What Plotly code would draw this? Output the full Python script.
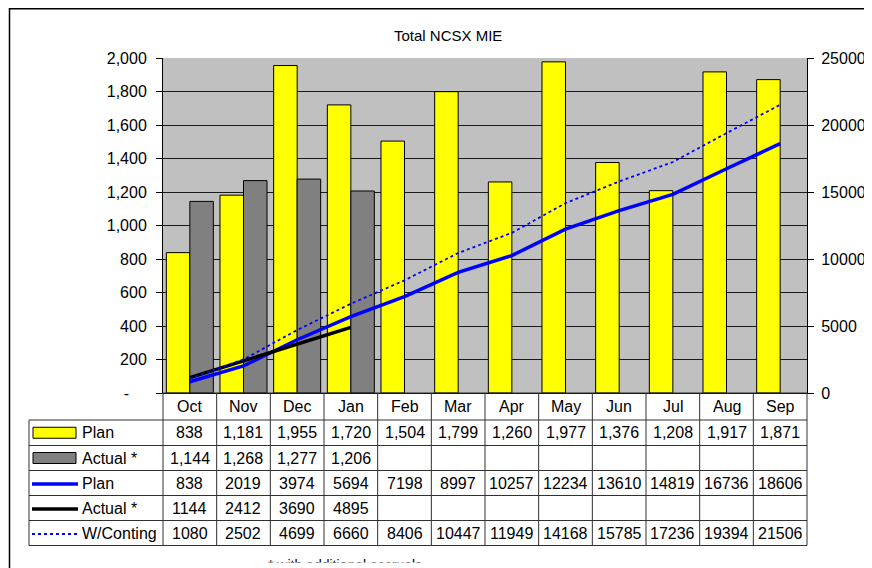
"""
Total NCSX MIE: monthly plan/actual bars with cumulative lines and a data table
laid out underneath, in the style of an Excel chart.
"""

import plotly.graph_objects as go

# ── Data ────────────────────────────────────────────────────────────────────
MONTHS = ["Oct", "Nov", "Dec", "Jan", "Feb", "Mar", "Apr", "May", "Jun", "Jul", "Aug", "Sep"]
PLAN_MONTHLY = [838, 1181, 1955, 1720, 1504, 1799, 1260, 1977, 1376, 1208, 1917, 1871]
ACTUAL_MONTHLY = [1144, 1268, 1277, 1206]
PLAN_CUM = [838, 2019, 3974, 5694, 7198, 8997, 10257, 12234, 13610, 14819, 16736, 18606]
ACTUAL_CUM = [1144, 2412, 3690, 4895]
W_CONTING = [1080, 2502, 4699, 6660, 8406, 10447, 11949, 14168, 15785, 17236, 19394, 21506]

LEFT_TICKS = [0, 200, 400, 600, 800, 1000, 1200, 1400, 1600, 1800, 2000]
RIGHT_TICKS = [0, 5000, 10000, 15000, 20000, 25000]

ROW_LABELS = ["Plan", "Actual *", "Plan", "Actual *", "W/Conting"]
FOOTNOTE = "* with additional accruals"

# ── Layout constants (pixels in the 872x568 window) ─────────────────────────
# the page body keeps its default 8px margin, so the figure starts at (8, 8)
OFF = 8
W, H = 872 - OFF, 568 - OFF
FONT = "Liberation Sans, Arial, sans-serif"
PLOT_L, PLOT_R, PLOT_T, PLOT_B = 163, 807, 58, 393
TABLE_L = 29
ROW_EDGES = [393, 420, 445.5, 470.5, 495.5, 520.5, 545.5]


def px(x):
    return (x - OFF) / W


def py(y):
    return 1 - (y - OFF) / H


def fmt_comma(v):
    return f"{v:,}"


fig = go.Figure()

fig.add_trace(go.Bar(x=MONTHS, y=PLAN_MONTHLY, name="Plan",
                     marker=dict(color="#FFFF00", line=dict(color="#000000", width=1))))
fig.add_trace(go.Bar(x=MONTHS[:len(ACTUAL_MONTHLY)], y=ACTUAL_MONTHLY, name="Actual *",
                     marker=dict(color="#808080", line=dict(color="#000000", width=1))))
fig.add_trace(go.Scatter(x=MONTHS, y=PLAN_CUM, name="Plan", yaxis="y2", mode="lines",
                         line=dict(color="#0000FF", width=3.5)))
fig.add_trace(go.Scatter(x=MONTHS[:len(ACTUAL_CUM)], y=ACTUAL_CUM, name="Actual *",
                         yaxis="y2", mode="lines", line=dict(color="#000000", width=3.5)))
fig.add_trace(go.Scatter(x=MONTHS, y=W_CONTING, name="W/Conting", yaxis="y2", mode="lines",
                         line=dict(color="#0000FF", width=1.8, dash="dot")))

left_text = [fmt_comma(v) if v else "-" + "\u00a0" * 4 for v in LEFT_TICKS]

fig.update_layout(
    width=W, height=H,
    margin=dict(l=0, r=0, t=0, b=0),
    paper_bgcolor="white",
    plot_bgcolor="#C0C0C0",
    font=dict(family=FONT, size=16, color="black"),
    showlegend=False,
    barmode="group",
    bargap=0.124,
    bargroupgap=0,
    xaxis=dict(domain=[px(PLOT_L), px(PLOT_R)], range=[-0.5, 11.5],
               showticklabels=False, ticks="", showgrid=False, automargin=False,
               showline=True, linecolor="black", linewidth=1, zeroline=False),
    yaxis=dict(domain=[py(PLOT_B), py(PLOT_T)], range=[0, 2000], automargin=False,
               tickvals=LEFT_TICKS, ticktext=left_text, ticks="outside", ticklen=6,
               tickcolor="black", ticklabelstandoff=6,
               showgrid=True, gridcolor="#1a1a1a", gridwidth=1,
               showline=True, linecolor="black", linewidth=1, zeroline=False),
    yaxis2=dict(overlaying="y", side="right", range=[0, 25000], automargin=False,
                tickvals=RIGHT_TICKS, tickformat="d", ticks="outside", ticklen=6,
                tickcolor="black", ticklabelstandoff=4, showgrid=False, zeroline=False,
                showline=True, linecolor="black", linewidth=1),
)

fig.add_annotation(text="Total NCSX MIE", x=px(448), y=py(35), xref="paper", yref="paper",
                   xanchor="center", yanchor="middle", showarrow=False, font=dict(size=15))

# ── Data table under the plot ───────────────────────────────────────────────
line = dict(color="#303030", width=1)
col_w = (PLOT_R - PLOT_L) / len(MONTHS)
shapes = []
# horizontal rules
shapes.append(dict(type="line", xref="paper", yref="paper",
                   x0=px(PLOT_L), x1=px(PLOT_R), y0=py(ROW_EDGES[0]), y1=py(ROW_EDGES[0]), line=line))
for edge in ROW_EDGES[1:]:
    shapes.append(dict(type="line", xref="paper", yref="paper",
                       x0=px(TABLE_L), x1=px(PLOT_R), y0=py(edge), y1=py(edge), line=line))
# vertical rules
shapes.append(dict(type="line", xref="paper", yref="paper",
                   x0=px(TABLE_L), x1=px(TABLE_L), y0=py(ROW_EDGES[1]), y1=py(ROW_EDGES[-1]), line=line))
for i in range(len(MONTHS) + 1):
    xe = PLOT_L + i * col_w
    shapes.append(dict(type="line", xref="paper", yref="paper",
                       x0=px(xe), x1=px(xe), y0=py(ROW_EDGES[0]), y1=py(ROW_EDGES[-1]), line=line))

# legend keys in the row-label column
row_mid = [(ROW_EDGES[i] + ROW_EDGES[i + 1]) / 2 for i in range(1, len(ROW_EDGES) - 1)]
for r, colour in ((0, "#FFFF00"), (1, "#808080")):
    shapes.append(dict(type="rect", xref="paper", yref="paper",
                       x0=px(33), x1=px(76), y0=py(row_mid[r] - 5.5), y1=py(row_mid[r] + 5.5),
                       fillcolor=colour, line=dict(color="black", width=1)))
key_lines = [(2, "#0000FF", 3.5, "solid"), (3, "#000000", 3.5, "solid"), (4, "#0000FF", 1.8, "dot")]
for r, colour, wdt, dash in key_lines:
    shapes.append(dict(type="line", xref="paper", yref="paper",
                       x0=px(32), x1=px(78), y0=py(row_mid[r] + 1), y1=py(row_mid[r] + 1),
                       line=dict(color=colour, width=wdt, dash=dash)))

# outer chart border (top and left are visible in the crop)
shapes.append(dict(type="line", xref="paper", yref="paper", x0=px(9), x1=1.0,
                   y0=py(8.75), y1=py(8.75), line=dict(color="black", width=1.5)))
shapes.append(dict(type="line", xref="paper", yref="paper", x0=px(9.5), x1=px(9.5),
                   y0=py(8), y1=0, line=dict(color="black", width=1.5)))

# footnote: only the tops of its tallest letters show in the original, the rest
# is clipped by the chart area; a shape label does not push the margins
shapes.append(dict(type="rect", xref="paper", yref="paper",
                   x0=px(265), x1=px(440), y0=py(553.5), y1=py(573.5),
                   line=dict(width=0), fillcolor="rgba(0,0,0,0)",
                   label=dict(text=FOOTNOTE, textposition="middle left", padding=0,
                              font=dict(family=FONT, size=14, color="black"))))
shapes.append(dict(type="rect", xref="paper", yref="paper",
                   x0=px(255), x1=px(450), y0=py(562.5), y1=0,
                   line=dict(width=0), fillcolor="white"))
fig.update_layout(shapes=shapes)

row_values = [
    [fmt_comma(v) for v in PLAN_MONTHLY],
    [fmt_comma(v) for v in ACTUAL_MONTHLY],
    [str(v) for v in PLAN_CUM],
    [str(v) for v in ACTUAL_CUM],
    [str(v) for v in W_CONTING],
]

header_mid = (ROW_EDGES[0] + ROW_EDGES[1]) / 2
for i, m in enumerate(MONTHS):
    fig.add_annotation(text=m, x=px(PLOT_L + (i + 0.5) * col_w), y=py(header_mid),
                       xref="paper", yref="paper", xanchor="center", yanchor="middle",
                       showarrow=False)

for r, (label, values) in enumerate(zip(ROW_LABELS, row_values)):
    fig.add_annotation(text=label, x=px(80), y=py(row_mid[r]), xref="paper", yref="paper",
                       xanchor="left", yanchor="middle", showarrow=False)
    for i, txt in enumerate(values):
        fig.add_annotation(text=txt, x=px(PLOT_L + (i + 0.5) * col_w), y=py(row_mid[r]),
                           xref="paper", yref="paper", xanchor="center", yanchor="middle",
                           showarrow=False)

fig.write_html("out.html")
